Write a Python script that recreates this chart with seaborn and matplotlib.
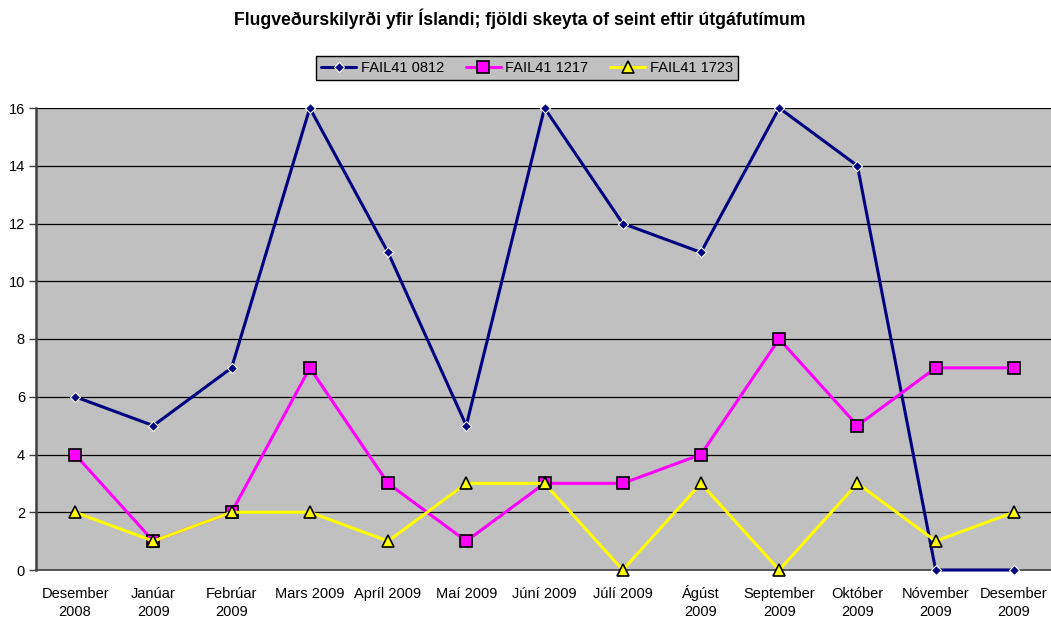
import numpy as np
import pandas as pd
import matplotlib
matplotlib.use("Agg")
import matplotlib.pyplot as plt
import seaborn as sns

# gögn lesin af myndinni
manudir = ["Desember\n2008", "Janúar\n2009", "Febrúar\n2009", "Mars 2009", "Apríl 2009",
           "Maí 2009", "Júní 2009", "Júlí 2009", "Ágúst\n2009", "September\n2009",
           "Október\n2009", "Nóvember\n2009", "Desember\n2009"]
fail_0812 = [6, 5, 7, 16, 11, 5, 16, 12, 11, 16, 14, 0, 0]
fail_1217 = [4, 1, 2, 7, 3, 1, 3, 3, 4, 8, 5, 7, 7]
fail_1723 = [2, 1, 2, 2, 1, 3, 3, 0, 3, 0, 3, 1, 2]

sns.set_style("white")
plt.rcParams['font.family'] = ['Liberation Sans', 'DejaVu Sans']
plt.rcParams['text.color'] = 'black'
plt.rcParams['xtick.color'] = 'black'
plt.rcParams['ytick.color'] = 'black'

df = pd.DataFrame({"x": np.arange(len(manudir)),
                   "FAIL41 0812": fail_0812,
                   "FAIL41 1217": fail_1217,
                   "FAIL41 1723": fail_1723})

fig = plt.figure(figsize=(10.51, 6.19), dpi=100)
ax = fig.add_axes([36/1051, 49/619, 1017/1051, 462/619])
ax.set_facecolor("#C0C0C0")

stillingar = [
    ("FAIL41 0812", "#000080", "D", 5, "white", 0.8),
    ("FAIL41 1217", "#FF00FF", "s", 8, "black", 1.2),
    ("FAIL41 1723", "#FFFF00", "^", 8, "black", 1.2),
]
for nafn, litur, merki, st, brun, bw in stillingar:
    sns.lineplot(data=df, x="x", y=nafn, color=litur, marker=merki, markersize=st,
                 markeredgecolor=brun, markeredgewidth=bw, linewidth=2.2,
                 label=nafn, ax=ax, clip_on=False, zorder=3)

ax.set_xlim(-0.5, 12.5)
ax.set_ylim(0, 16)
ax.set_yticks(range(0, 17, 2))
ax.yaxis.grid(True, color="black", linewidth=0.9)
ax.xaxis.grid(False)
ax.set_xticks(np.arange(len(manudir)))
# allir merkimiðar tvær línur svo grunnlína fyrstu línu sé eins
merkimidar = [m if "\n" in m else m + "\n " for m in manudir]
ax.set_xticklabels(merkimidar, fontsize=10.5, linespacing=1.38, va="baseline")
ax.set_xticks(np.arange(-0.5, 12.6, 1), minor=True)
ax.tick_params(axis="x", which="major", length=0, pad=33)
ax.tick_params(axis="x", which="minor", length=5, width=1, color="#404040", direction="out")
ax.tick_params(axis="y", length=5, width=1, color="#404040", direction="out",
               labelsize=10.5, pad=3, left=True, labelcolor="black")
ax.tick_params(axis="x", labelcolor="black")
ax.set_xlabel("")
ax.set_ylabel("")
for s in ["top", "right"]:
    ax.spines[s].set_visible(False)
ax.spines["left"].set_color("#404040")
ax.spines["left"].set_linewidth(1.8)
ax.spines["bottom"].set_color("#404040")
ax.spines["bottom"].set_linewidth(1.2)

leg = ax.legend(loc="center", bbox_to_anchor=(527/1051, 1 - 68/619), bbox_transform=fig.transFigure,
                ncol=3, frameon=True, fancybox=False, fontsize=10.5, handlelength=2.4,
                columnspacing=1.5, handletextpad=0.3, borderpad=0.35, facecolor="#C0C0C0",
                edgecolor="black", framealpha=1)
leg.get_frame().set_linewidth(1.0)
for t in leg.get_texts():
    t.set_color("black")

fig.text(520/1051, 1 - 19/619, "Flugveðurskilyrði yfir Íslandi; fjöldi skeyta of seint eftir útgáfutímum",
         ha="center", va="center", fontsize=12.7, fontweight="bold", color="black")

fig.savefig("out.png", dpi=100, facecolor="white")
